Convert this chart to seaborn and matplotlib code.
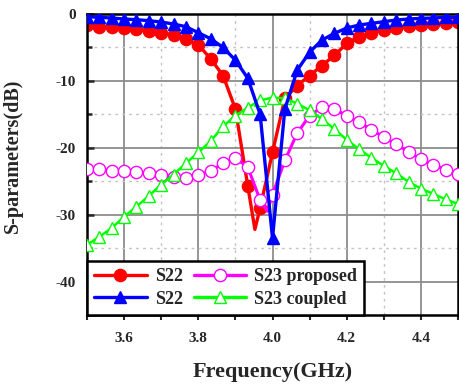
import numpy as np
import pandas as pd
import matplotlib
matplotlib.use("Agg")
import matplotlib.pyplot as plt
from matplotlib.ticker import MultipleLocator
from matplotlib.lines import Line2D
import seaborn as sns

# ---------------- data ----------------
# marker grid: 3.5 ... 4.5 GHz, step 1/30 GHz
freq_ghz = [3.5 + k / 30 for k in range(31)]

s22_red = [-1.65, -1.9, -2.0, -2.15, -2.3, -2.5, -2.8, -3.15, -3.8, -4.6,
           -6.7, -9.2, -14.2, -25.7, -29.0, -20.7, -12.6, -10.7, -9.2, -7.7,
           -6.2, -4.4, -3.4, -2.8, -2.4, -2.1, -1.8, -1.65, -1.5, -1.4, -1.15]
s22_red_extra_f = [3.9525]
s22_red_extra_db = [-32.2]

s22_blue = [-0.4, -0.5, -0.6, -0.75, -0.85, -1.0, -1.2, -1.5, -1.9, -2.8,
            -3.7, -5.0, -6.9, -9.6, -15.0, -33.5, -14.2, -8.4, -5.7, -3.9,
            -2.9, -2.1, -1.65, -1.4, -1.15, -0.9, -0.75, -0.65, -0.6, -0.5, -0.5]

s23_proposed = [-23.2, -23.2, -23.4, -23.5, -23.6, -23.8, -24.0, -24.3, -24.5, -24.0,
                -23.5, -22.3, -21.5, -22.9, -27.8, -27.0, -21.9, -17.8, -15.2, -13.9,
                -14.2, -15.2, -16.2, -17.3, -18.4, -19.5, -20.6, -21.7, -22.5, -23.3, -23.9]
s23_proposed_extra_f = [3.986]
s23_proposed_extra_db = [-29.5]

s23_coupled = [-34.5, -33.3, -32.0, -30.3, -28.8, -27.2, -25.5, -24.0, -22.3, -20.7,
               -19.0, -16.8, -15.2, -14.0, -12.9, -12.5, -12.6, -13.4, -14.4, -15.7,
               -17.2, -18.8, -20.2, -21.5, -22.7, -23.8, -25.1, -26.1, -26.9, -27.7, -28.4]

legend_labels = ["S22", "S22", "S23 proposed", "S23 coupled"]
x_ticks = [3.6, 3.8, 4.0, 4.2, 4.4]
y_ticks = [0, -10, -20, -30, -40]


def build(vals, extra_f=(), extra_db=()):
    df = pd.DataFrame({"f": list(freq_ghz) + list(extra_f),
                       "db": list(vals) + list(extra_db),
                       "mk": [True] * len(vals) + [False] * len(extra_f)})
    df = df.sort_values("f").reset_index(drop=True)
    marks = list(df.index[df["mk"]])
    return df, marks


sns.set_style("ticks")
plt.rcParams["font.family"] = ["Liberation Serif", "DejaVu Serif"]
plt.rcParams["font.weight"] = "bold"

fig = plt.figure(figsize=(4.59, 3.86), dpi=100)
ax = fig.add_axes([87 / 459, 1 - 315 / 386, 371 / 459, 301 / 386])

lw = 2.4
series = [
    (build(s22_red, s22_red_extra_f, s22_red_extra_db), "#FF0000", "o", "#FF0000", 8.8, 2.4, 2),
    (build(s23_proposed, s23_proposed_extra_f, s23_proposed_extra_db), "#FF00FF", "o", "white", 8.8, 2.2, 3),
    (build(s23_coupled), "#00FF00", "^", "white", 9.2, 1.8, 4),
    (build(s22_blue), "#0000FF", "^", "#0000FF", 9.2, 2.4, 5),
]
for (df, marks), col, mk, mfc, ms, w, z in series:
    sns.lineplot(data=df, x="f", y="db", ax=ax, color=col, lw=w, marker=mk,
                 markevery=marks, markersize=ms, markerfacecolor=mfc,
                 markeredgecolor=col, markeredgewidth=1.0, zorder=z,
                 estimator=None, sort=False)

ax.set_xlim(3.5, 4.5)
ax.set_ylim(-45, 0)
ax.set_xticks(x_ticks)
ax.set_xticklabels([f"{v:.1f}" for v in x_ticks])
ax.set_yticks(y_ticks)
ax.set_yticklabels([f"{v:d}" for v in y_ticks])
ax.xaxis.set_minor_locator(MultipleLocator(0.1))
ax.yaxis.set_minor_locator(MultipleLocator(5))

ax.grid(True, which="major", color="#8c8c8c", lw=1.3, ls="-", zorder=0)
ax.grid(True, which="minor", color="#c4c4c4", lw=1.0, ls=(0, (2, 3)), zorder=0)
ax.set_axisbelow(True)

for s in ax.spines.values():
    s.set_color("black")
    s.set_linewidth(1.8)
    s.set_visible(True)

ax.tick_params(axis="y", which="major", direction="in", length=5, width=1.8,
               labelsize=11, pad=8)
ax.tick_params(axis="y", which="minor", direction="in", length=3.5, width=1.8)
ax.tick_params(axis="x", which="major", direction="out", length=3.5, width=1.5,
               labelsize=11, pad=9)
ax.tick_params(axis="x", which="minor", direction="out", length=3.5, width=1.5)
for lab in ax.get_xticklabels() + ax.get_yticklabels():
    lab.set_fontweight("bold")

ax.set_xlabel("Frequency(GHz)", fontsize=16, fontweight="bold")
ax.set_ylabel("S-parameters(dB)", fontsize=14.5, fontweight="bold")
ax.xaxis.set_label_coords(0.5, -0.155)
ax.yaxis.set_label_coords(-0.172, 0.53)

handles = [
    Line2D([], [], color="#FF0000", lw=lw, marker="o", ms=8.8, mfc="#FF0000", mec="#FF0000"),
    Line2D([], [], color="#0000FF", lw=lw, marker="^", ms=9.2, mfc="#0000FF", mec="#0000FF"),
    Line2D([], [], color="#FF00FF", lw=lw, marker="o", ms=8.8, mfc="white", mec="#FF00FF"),
    Line2D([], [], color="#00FF00", lw=lw, marker="^", ms=9.2, mfc="white", mec="#00FF00"),
]
leg = ax.legend(handles, legend_labels, ncol=2, loc="lower left",
                bbox_to_anchor=(0, 0), borderaxespad=0, frameon=True,
                fancybox=False, framealpha=1, edgecolor="black",
                prop={"family": ["Liberation Serif"], "weight": "bold", "size": 13},
                handlelength=2.9, handletextpad=0.45, columnspacing=0.6,
                labelspacing=0.3, borderpad=0.4, numpoints=1)
leg.get_frame().set_linewidth(1.8)
leg.set_zorder(10)

fig.savefig("out.png", dpi=100)
